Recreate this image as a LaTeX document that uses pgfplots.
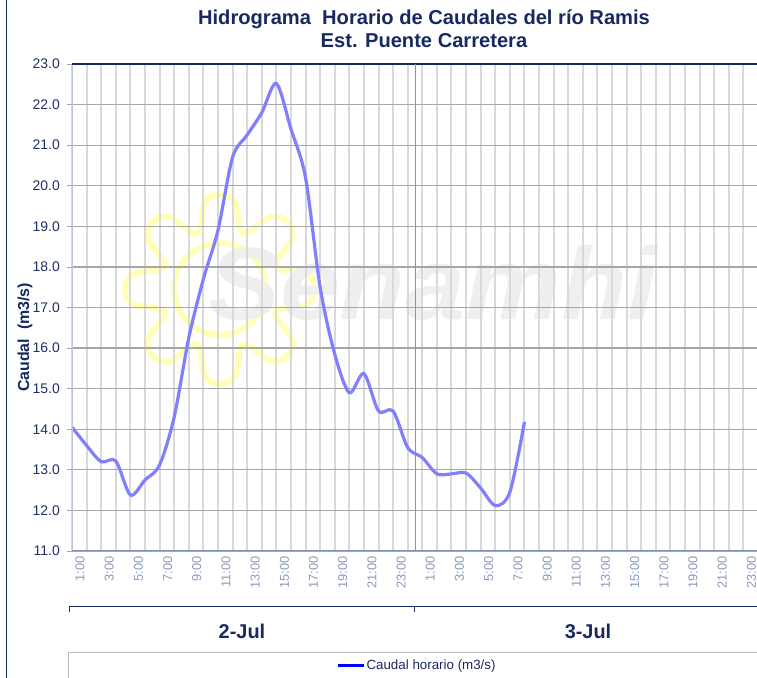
\documentclass[border=0pt]{standalone}
\usepackage{fontspec}
\setmainfont{Liberation Sans}
\usepackage{pgfplots}
\pgfplotsset{compat=1.18}
\definecolor{navy}{HTML}{17295E}
\definecolor{ticknavy}{HTML}{1F2F66}
\definecolor{xlab}{HTML}{8A98BE}
\definecolor{vgrid}{HTML}{D9D9D9}
\definecolor{hgrid}{HTML}{A6A6A6}
\definecolor{curve}{HTML}{8080FF}
\definecolor{axblue}{HTML}{8493B8}
\definecolor{sun}{HTML}{FFFFB8}
\definecolor{wm}{HTML}{EFEFEF}
\begin{document}
\begin{tikzpicture}[x=1bp,y=1bp]
\useasboundingbox (0,0) rectangle (757,678);
\clip (0,0) rectangle (757,678);
% watermark (background decoration)
\begin{scope}[shift={(220,389)}]
\draw[sun, line width=6bp] plot[smooth cycle, tension=0.6] coordinates {
(80:88) (90:95) (100:88) (112.5:60)
(125:88) (135:95) (145:88) (157.5:60)
(170:88) (180:95) (190:88) (202.5:60)
(215:88) (225:95) (235:88) (247.5:60)
(260:88) (270:95) (280:88) (292.5:60)
(305:88) (315:95) (325:88) (337.5:60)
(350:88) (0:95) (10:88) (22.5:60)
(35:88) (45:95) (55:88) (67.5:60)};
\draw[sun, line width=6bp] (0,0) circle (46);
\end{scope}
\node[anchor=base west, inner sep=0pt, text=wm] at (208,358) {\scalebox{1.05}[1]{\fontsize{103}{103}\selectfont\bfseries\itshape Senamhi}};

\begin{axis}[
  at={(72bp,127bp)}, anchor=south west,
  scale only axis, width=686bp, height=487bp,
  xmin=0, xmax=47, ymin=11, ymax=23,
  axis line style={draw=none},
  xtick={0,...,47},
  xticklabels={1:00,,3:00,,5:00,,7:00,,9:00,,11:00,,13:00,,15:00,,17:00,,19:00,,21:00,,23:00,,1:00,,3:00,,5:00,,7:00,,9:00,,11:00,,13:00,,15:00,,17:00,,19:00,,21:00,,23:00,},
  ytick={11,12,...,23},
  /pgf/number format/assume math mode=true,
  y tick label style={/pgf/number format/.cd, fixed, fixed zerofill, precision=1, /tikz/.cd},
  xmajorgrids, ymajorgrids,
  x grid style={vgrid, line width=2bp},
  y grid style={hgrid, line width=1.2bp},
  xtick style={draw=none},
  ytick style={hgrid, line width=0.8bp},
  tick align=outside, major tick length=5bp,
  xticklabel style={font=\fontsize{12.9}{14}\selectfont, text=xlab, rotate=90, anchor=east, inner sep=0pt, yshift=-8bp},
  yticklabel style={font=\fontsize{14}{16}\selectfont, text=ticknavy, inner sep=0pt, xshift=-7bp},
  legend style={draw=none, fill=none, at={(0.385,-0.2347)}, anchor=west, font=\fontsize{13.4}{15}\selectfont, text=navy, inner sep=0pt, nodes={inner sep=1bp}},
  legend image code/.code={\draw[blue, line width=2.5bp] (0bp,0bp) -- (26.7bp,0bp);},
]
\addplot[curve, line width=3.2bp, smooth, tension=0.5] coordinates {
(0,14.05) (1,13.6) (2,13.2) (3,13.22) (4,12.38) (5,12.75) (6,13.12) (7,14.3)
(8,16.25) (9,17.7) (10,18.9) (11,20.7) (12,21.25) (13,21.8) (14,22.52) (15,21.4)
(16,20.2) (17,17.5) (18,15.85) (19,14.9) (20,15.37) (21,14.45) (22,14.45) (23,13.55)
(24,13.3) (25,12.9) (26,12.9) (27,12.92) (28,12.55) (29,12.12) (30,12.45) (31,14.18)};
\addlegendentry{Caudal horario (m3/s)}
\draw[axblue!55, line width=1.2bp] (rel axis cs:0,0) -- (rel axis cs:0,1);
\draw[navy, line width=1.2bp] (rel axis cs:0,1) -- (rel axis cs:1,1);
\draw[axblue, line width=1.5bp] (rel axis cs:0,0) -- (rel axis cs:1,0);
\draw[axblue, line width=0.8bp] (axis cs:23.5,11) -- (axis cs:23.5,23);
\end{axis}

% title
\node[anchor=base, inner sep=0pt, text=navy] at (424,653) {\fontsize{20.2}{22}\selectfont\bfseries Hidrograma\ \ Horario de Caudales del río Ramis};
\node[anchor=base, inner sep=0pt, text=navy] at (424,630.7) {\fontsize{20.2}{22}\selectfont\bfseries Est. Puente Carretera};
% y label
\node[rotate=90, inner sep=0pt, text=navy] at (25,340.5) {\fontsize{16}{18}\selectfont\bfseries Caudal\ \ (m3/s)};
% category (day) axis
\draw[navy, line width=1.3bp] (69,71.5) -- (770,71.5);
\draw[navy, line width=1bp] (69,71.5) -- (69,66);
\draw[navy, line width=1bp] (414.5,71.5) -- (414.5,66);
\node[anchor=base, inner sep=0pt, text=navy] at (242,39.7) {\fontsize{20}{22}\selectfont\bfseries 2-Jul};
\node[anchor=base, inner sep=0pt, text=navy] at (588,39.7) {\fontsize{20}{22}\selectfont\bfseries 3-Jul};
% legend box
\draw[black!28, line width=1bp] (68.3,-5) -- (68.3,25.7) -- (780,25.7);
% chart border
\draw[navy, line width=1.5bp] (6.5,-5) -- (6.5,690);
\end{tikzpicture}
\end{document}
